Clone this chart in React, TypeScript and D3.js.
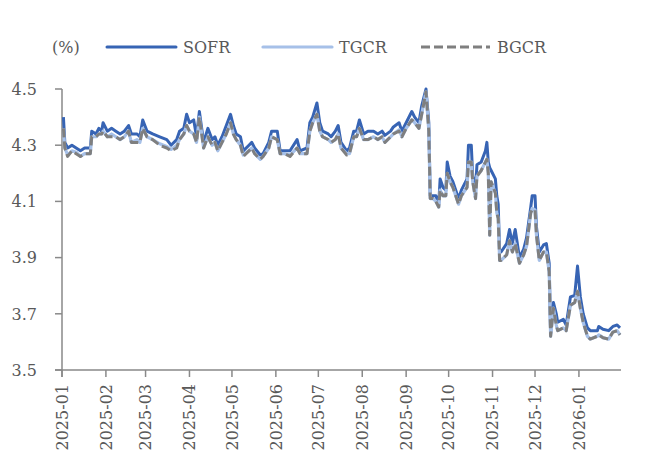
import React from "react";
import * as d3 from "d3";

const dates = [
  "2025-01-02","2025-01-03","2025-01-05","2025-01-08","2025-01-11","2025-01-14","2025-01-17","2025-01-21","2025-01-22","2025-01-25",
  "2025-01-27","2025-01-29","2025-01-30","2025-02-02","2025-02-05","2025-02-08","2025-02-11","2025-02-14","2025-02-17","2025-02-19",
  "2025-02-23","2025-02-25","2025-02-27","2025-03-02","2025-03-06","2025-03-11","2025-03-16","2025-03-19","2025-03-23","2025-03-25",
  "2025-03-28","2025-03-30","2025-04-01","2025-04-04","2025-04-06","2025-04-08","2025-04-11","2025-04-14","2025-04-17","2025-04-19",
  "2025-04-21","2025-04-24","2025-04-27","2025-04-30","2025-05-02","2025-05-04","2025-05-07","2025-05-09","2025-05-13","2025-05-15",
  "2025-05-17","2025-05-21","2025-05-23","2025-05-27","2025-05-29","2025-06-02","2025-06-04","2025-06-07","2025-06-11","2025-06-16",
  "2025-06-18","2025-06-23","2025-06-25","2025-06-27","2025-06-30","2025-07-02","2025-07-04","2025-07-08","2025-07-10","2025-07-13",
  "2025-07-15","2025-07-17","2025-07-21","2025-07-23","2025-07-26","2025-07-28","2025-07-30","2025-08-02","2025-08-05","2025-08-09",
  "2025-08-12","2025-08-15","2025-08-17","2025-08-21","2025-08-23","2025-08-27","2025-08-29","2025-09-01","2025-09-05","2025-09-07",
  "2025-09-10","2025-09-12","2025-09-15","2025-09-17","2025-09-18","2025-09-20","2025-09-22","2025-09-24","2025-09-25","2025-09-27",
  "2025-09-29","2025-09-30","2025-10-02","2025-10-04","2025-10-08","2025-10-10","2025-10-14","2025-10-15","2025-10-17","2025-10-18",
  "2025-10-20","2025-10-21","2025-10-24","2025-10-27","2025-10-28","2025-10-29","2025-10-30","2025-10-31","2025-11-03","2025-11-04",
  "2025-11-05","2025-11-06","2025-11-07","2025-11-11","2025-11-13","2025-11-15","2025-11-17","2025-11-20","2025-11-23","2025-11-25",
  "2025-11-28","2025-11-29","2025-12-01","2025-12-02","2025-12-04","2025-12-07","2025-12-09","2025-12-11","2025-12-12","2025-12-14",
  "2025-12-16","2025-12-17","2025-12-21","2025-12-23","2025-12-26","2025-12-29","2025-12-31","2026-01-02","2026-01-04","2026-01-07",
  "2026-01-09","2026-01-14","2026-01-15","2026-01-18","2026-01-22","2026-01-25","2026-01-28","2026-01-30"
];

const sofr = [
  4.40,4.31,4.29,4.30,4.29,4.28,4.29,4.29,4.35,4.34,
  4.36,4.35,4.38,4.35,4.36,4.35,4.34,4.35,4.37,4.34,
  4.34,4.33,4.39,4.35,4.34,4.33,4.32,4.30,4.32,4.35,
  4.36,4.41,4.38,4.39,4.33,4.42,4.31,4.36,4.32,4.33,
  4.30,4.33,4.37,4.41,4.37,4.34,4.33,4.28,4.30,4.31,
  4.29,4.265,4.27,4.31,4.35,4.35,4.28,4.28,4.28,4.32,
  4.28,4.29,4.38,4.40,4.45,4.38,4.35,4.34,4.33,4.35,
  4.37,4.31,4.28,4.29,4.35,4.35,4.39,4.34,4.35,4.35,
  4.34,4.35,4.335,4.35,4.365,4.38,4.35,4.38,4.42,4.40,
  4.38,4.44,4.50,4.38,4.12,4.12,4.12,4.09,4.18,4.15,
  4.14,4.24,4.19,4.17,4.11,4.14,4.18,4.30,4.30,4.19,
  4.15,4.23,4.24,4.28,4.31,4.24,4.22,4.21,4.18,4.12,
  4.09,3.92,3.92,3.95,4.00,3.95,4.00,3.90,3.93,3.97,
  4.08,4.12,4.12,4.01,3.92,3.945,3.95,3.88,3.63,3.74,
  3.70,3.67,3.68,3.66,3.76,3.765,3.87,3.76,3.70,3.65,
  3.64,3.64,3.655,3.645,3.64,3.655,3.66,3.65
];

const tgcr = [
  4.36,4.29,4.265,4.28,4.275,4.26,4.27,4.27,4.33,4.33,
  4.34,4.34,4.35,4.33,4.34,4.33,4.32,4.33,4.35,4.31,
  4.32,4.31,4.36,4.33,4.32,4.305,4.295,4.285,4.30,4.32,
  4.34,4.37,4.35,4.34,4.31,4.40,4.29,4.33,4.30,4.31,
  4.28,4.31,4.34,4.38,4.34,4.32,4.30,4.265,4.28,4.29,
  4.27,4.25,4.26,4.29,4.33,4.32,4.27,4.27,4.265,4.29,
  4.27,4.27,4.35,4.38,4.41,4.35,4.33,4.32,4.31,4.32,
  4.34,4.29,4.27,4.27,4.33,4.33,4.36,4.32,4.32,4.33,
  4.32,4.33,4.31,4.33,4.34,4.355,4.33,4.36,4.39,4.38,
  4.36,4.41,4.49,4.35,4.11,4.11,4.10,4.08,4.14,4.12,
  4.12,4.20,4.17,4.15,4.09,4.12,4.15,4.24,4.24,4.17,
  4.11,4.19,4.21,4.24,4.25,4.20,3.98,4.17,4.13,4.06,
  4.04,3.89,3.89,3.91,3.96,3.92,3.95,3.88,3.91,3.94,
  4.06,4.075,4.07,3.98,3.89,3.92,3.92,3.85,3.62,3.72,
  3.66,3.64,3.65,3.64,3.73,3.74,3.78,3.72,3.67,3.62,
  3.61,3.62,3.625,3.615,3.61,3.635,3.64,3.625
];

const bgcr = [
  4.36,4.29,4.26,4.28,4.27,4.26,4.27,4.27,4.33,4.33,
  4.34,4.34,4.35,4.33,4.33,4.33,4.32,4.33,4.35,4.31,
  4.31,4.31,4.36,4.33,4.32,4.30,4.29,4.28,4.29,4.32,
  4.34,4.37,4.35,4.34,4.31,4.40,4.29,4.33,4.30,4.31,
  4.28,4.31,4.34,4.38,4.34,4.32,4.30,4.26,4.28,4.29,
  4.27,4.25,4.26,4.29,4.33,4.32,4.27,4.27,4.26,4.29,
  4.27,4.27,4.35,4.38,4.41,4.35,4.33,4.32,4.31,4.32,
  4.34,4.29,4.265,4.27,4.33,4.33,4.36,4.32,4.32,4.33,
  4.32,4.33,4.31,4.33,4.34,4.35,4.33,4.36,4.39,4.38,
  4.36,4.41,4.49,4.35,4.11,4.11,4.10,4.08,4.14,4.12,
  4.12,4.20,4.17,4.15,4.09,4.12,4.15,4.24,4.24,4.17,
  4.11,4.19,4.21,4.24,4.25,4.20,3.98,4.17,4.13,4.06,
  4.04,3.89,3.89,3.91,3.96,3.92,3.95,3.88,3.91,3.94,
  4.06,4.07,4.07,3.98,3.89,3.92,3.92,3.85,3.62,3.72,
  3.66,3.64,3.65,3.64,3.73,3.74,3.78,3.72,3.67,3.62,
  3.61,3.62,3.625,3.615,3.61,3.635,3.64,3.625
];

const xTickLabels = [
  "2025-01","2025-02","2025-03","2025-04","2025-05","2025-06","2025-07",
  "2025-08","2025-09","2025-10","2025-11","2025-12","2026-01"
];
const yTicks = [3.5, 3.7, 3.9, 4.1, 4.3, 4.5];
const seriesNames = ["SOFR", "TGCR", "BGCR"];
const unitLabel = "(%)";
const xDomain = ["2025-01-01", "2026-01-30"];

const FONT = "'DejaVu Serif', serif";
const TEXT = "#595959";
const AXIS = "#898989";
const COLORS = ["#3764b4", "#a6c0e8", "#7f7f7f"];

export default function App() {
  const W = 646, H = 468;
  const parse = d3.timeParse("%Y-%m-%d");
  const parseM = d3.timeParse("%Y-%m");
  const pd = dates.map((d) => parse(d) as Date);

  const x = d3.scaleTime()
    .domain([parse(xDomain[0]) as Date, parse(xDomain[1]) as Date])
    .range([62, 620]);
  const y = d3.scaleLinear().domain([3.5, 4.5]).range([370, 89]);

  const line = d3.line<number>()
    .x((_, i) => x(pd[i]))
    .y((d) => y(d));

  const series = [sofr, tgcr, bgcr];
  const widths = [3, 3.2, 3];
  const dashes = [undefined, undefined, "9,4"];

  const legendX = [107, 263, 421];

  return (
    <svg width={W} height={H} style={{ position: "absolute", left: 0, top: 0, background: "#fff" }}
      fontFamily={FONT}>
      {/* legend */}
      <text x={52} y={53} fontSize={16} fill={TEXT}>{unitLabel}</text>
      {seriesNames.map((n, i) => (
        <g key={n}>
          <line x1={legendX[i]} x2={legendX[i] + 69} y1={47} y2={47}
            stroke={COLORS[i]} strokeWidth={widths[i]} strokeDasharray={dashes[i]}
            strokeLinecap={i === 2 ? "butt" : "round"} />
          <text x={legendX[i] + 76} y={53} fontSize={16} fill={TEXT}>{n}</text>
        </g>
      ))}

      {/* y axis */}
      <line x1={62} x2={62} y1={y(4.5)} y2={y(3.5) + 7} stroke={AXIS} strokeWidth={1.5} />
      {yTicks.map((t) => (
        <g key={t}>
          <line x1={55} x2={62} y1={y(t)} y2={y(t)} stroke={AXIS} strokeWidth={1.5} />
          <text x={37} y={y(t)} dy="0.36em" textAnchor="end" fontSize={16} fill={TEXT}>
            {d3.format(".1f")(t)}
          </text>
        </g>
      ))}

      {/* x axis */}
      <line x1={55} x2={621} y1={y(3.5)} y2={y(3.5)} stroke={AXIS} strokeWidth={1.5} />
      {xTickLabels.map((lbl) => {
        const px = x(parseM(lbl) as Date);
        return (
          <g key={lbl}>
            <line x1={px} x2={px} y1={y(3.5)} y2={y(3.5) + 7} stroke={AXIS} strokeWidth={1.5} />
            <text transform={`translate(${px},384) rotate(-90)`} textAnchor="end" dy="0.36em"
              fontSize={16} fill={TEXT}>{lbl}</text>
          </g>
        );
      })}

      {/* series */}
      {series.map((s, i) => (
        <path key={i} d={line(s) || ""} fill="none" stroke={COLORS[i]} strokeWidth={widths[i]}
          strokeDasharray={dashes[i]} strokeLinejoin="round" />
      ))}
    </svg>
  );
}
